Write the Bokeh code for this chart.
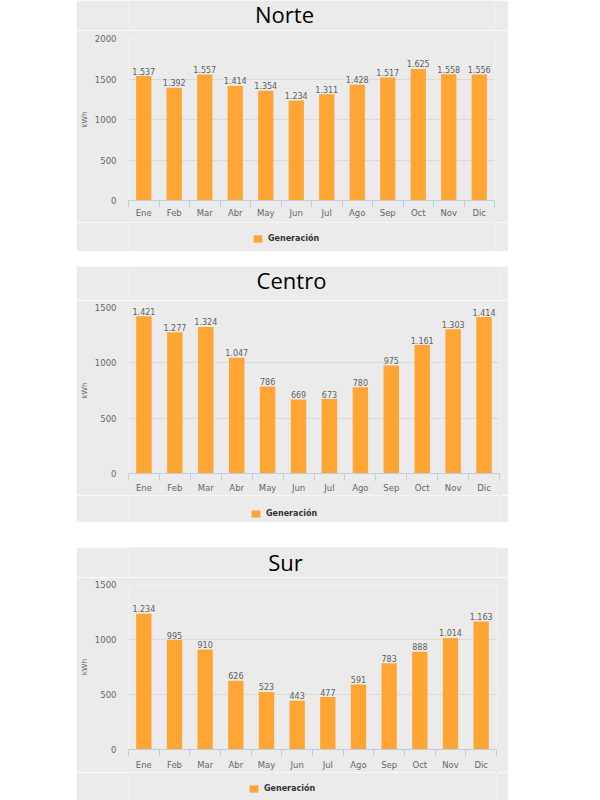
from bokeh.plotting import figure
from bokeh.models import (Range1d, LinearAxis, FixedTicker, Legend,
                          LegendItem, Label, ColumnDataSource, Spacer)
from bokeh.layouts import column, row
from bokeh.core.properties import value
from bokeh.embed import file_html
from bokeh.resources import INLINE

# ---- data ----
months = ["Ene", "Feb", "Mar", "Abr", "May", "Jun", "Jul", "Ago", "Sep", "Oct", "Nov", "Dic"]
norte = [1537, 1392, 1557, 1414, 1354, 1234, 1311, 1428, 1517, 1625, 1558, 1556]
centro = [1421, 1277, 1324, 1047, 786, 669, 673, 780, 975, 1161, 1303, 1414]
sur = [1234, 995, 910, 626, 523, 443, 477, 591, 783, 888, 1014, 1163]
norte_ticks = [0, 500, 1000, 1500, 2000]
centro_ticks = [0, 500, 1000, 1500]
sur_ticks = [0, 500, 1000, 1500]
titles = ["Norte", "Centro", "Sur"]
series_name = "Generación"
y_label = "kWh"

BG = "#ebebeb"
BAR = "#ffa534"
GRID = "#dadada"
AX = "#c0cfdf"
TXT = "#666666"
W = 432
LEFT = 52


def fmt(v):
    return f"{v:,}".replace(",", ".")


def blank_fig(height, right):
    f = figure(width=W, height=height, x_range=Range1d(-40, -39), y_range=Range1d(-2, -1),
               x_axis_location=None, y_axis_location=None,
               output_backend="svg", toolbar_location=None,
               min_border_left=LEFT, min_border_right=right,
               min_border_top=0, min_border_bottom=0)
    f.background_fill_color = BG
    f.border_fill_color = BG
    f.outline_line_color = None
    f.xgrid.visible = False
    f.ygrid.visible = False
    return f


def header(title, height, right, tx, ty):
    h = blank_fig(height, right)
    h.add_layout(Label(x=tx, y=ty, x_units="screen", y_units="screen",
                       text=title, text_align="center", text_baseline="alphabetic",
                       text_font="Open Sans", text_font_size="22px", text_color="#000000"))
    return h


def legend_fig(src, height, right, lx, ly):
    lf = blank_fig(height, right)
    # same series as the chart; it lies outside this strip's ranges, only its swatch shows
    r = lf.vbar(x="x", top="y", width=0.5, source=src, fill_color=BAR, line_color=None)
    leg = Legend(items=[LegendItem(label=series_name, renderers=[r])],
                 location=(lx, ly), orientation="horizontal",
                 border_line_color=None, background_fill_alpha=0,
                 padding=0, margin=0, spacing=0,
                 glyph_width=11, glyph_height=9, label_height=9, label_width=10,
                 label_standoff=5, label_text_font="DejaVu Sans",
                 label_text_font_size="8px", label_text_font_style="bold",
                 label_text_color="#333333")
    lf.add_layout(leg, "center")
    return lf


def chart(src, ticks, height, mb, xstand):
    n = len(months)
    idx = list(range(n))
    p = figure(width=W, height=height,
               x_range=Range1d(-0.5, n - 0.5),
               y_range=Range1d(ticks[0], ticks[-1]),
               x_axis_location=None,
               output_backend="svg", toolbar_location=None,
               min_border_left=LEFT, min_border_right=mb[0],
               min_border_top=mb[1], min_border_bottom=mb[2])
    p.background_fill_color = BG
    p.border_fill_color = BG
    p.outline_line_color = None

    p.vbar(x="x", top="y", width=0.5, source=src, fill_color=BAR, line_color=None)
    p.text(x="x", y="y", text="lab", source=src, text_align="center",
           text_baseline="alphabetic", y_offset=-5,
           text_font=value("DejaVu Sans"), text_font_size="8px", text_color="#606060")

    ya = p.yaxis[0]
    ya.ticker = FixedTicker(ticks=ticks)
    ya.axis_line_color = None
    ya.major_tick_out = 0
    ya.major_tick_in = 0
    ya.minor_tick_out = 0
    ya.minor_tick_in = 0
    ya.major_label_standoff = 12
    ya.major_label_text_font = "DejaVu Sans"
    ya.major_label_text_font_size = "8.5px"
    ya.major_label_text_color = TXT
    ya.axis_label = y_label
    ya.axis_label_text_font = "DejaVu Sans"
    ya.axis_label_text_font_size = "7.5px"
    ya.axis_label_text_font_style = "normal"
    ya.axis_label_text_color = TXT
    ya.axis_label_standoff = 3

    xa = LinearAxis(ticker=FixedTicker(ticks=idx, minor_ticks=[i - 0.5 for i in range(n + 1)]),
                    major_label_overrides={i: m for i, m in zip(idx, months)},
                    axis_line_color=AX, major_tick_out=0, major_tick_in=0,
                    minor_tick_out=7, minor_tick_in=0, minor_tick_line_color=AX,
                    major_label_standoff=xstand,
                    major_label_text_font="DejaVu Sans",
                    major_label_text_font_size="8.5px",
                    major_label_text_color=TXT)
    p.add_layout(xa, "below")

    p.xgrid.grid_line_color = None
    p.ygrid.grid_line_color = GRID
    return p


def panel(title, vals, ticks, hh, ch, lh, right, top, bottom, xstand, tpos, lpos):
    src = ColumnDataSource(dict(x=list(range(len(months))), m=months, y=vals,
                                lab=[fmt(v) for v in vals]))
    figs = [header(title, hh, right, tpos[0], tpos[1]),
            chart(src, ticks, ch, (right, top, bottom), xstand),
            legend_fig(src, lh, right, lpos[0], lpos[1])]
    return row(Spacer(width=76), column(*figs))


n1 = panel(titles[0], norte, norte_ticks, 30, 192, 29, 14, 8, 22, 0, (156, 17), (124, 8))
n2 = panel(titles[1], centro, centro_ticks, 34, 195, 27, 9, 7, 22, 2, (163, 21), (122, 4))
n3 = panel(titles[2], sur, sur_ticks, 30, 195, 28, 12, 7, 22, 3, (157, 16), (120, 7))

layout = column(n1, Spacer(height=15), n2, Spacer(height=25), n3)

open("out.html", "w").write(file_html(layout, INLINE))
